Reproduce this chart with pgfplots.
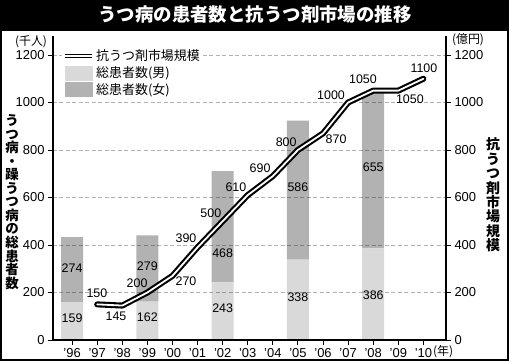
\documentclass[border=0pt]{standalone}
\usepackage{pgfplots}
\pgfplotsset{compat=1.18}
\usepackage{fontspec}
\setmainfont{Liberation Sans}
\newfontfamily\jp{Noto Sans CJK JP}
\definecolor{male}{RGB}{217,217,217}
\definecolor{female}{RGB}{178,178,178}
\pgfplotsset{
  common/.style={
    at={(0bp,0bp)}, anchor=south west,
    scale only axis, width=393bp, height=304bp,
    xmin=-0.76, xmax=14.9, ymin=0, ymax=1280,
    ytick={0,200,...,1200},
    tick align=outside, major tick length=5bp,
    tick style={black, line width=0.9bp},
    axis line style={black, line width=1.1bp},
    tick label style={font=\fontsize{13}{13}\selectfont},
    /pgf/number format/assume math mode=true,
    /pgf/number format/1000 sep={},
  }
}
\begin{document}
\begin{tikzpicture}
\fill[black] (-53bp,-21bp) rectangle (456bp,340bp);
\fill[white] (-51bp,-19bp) rectangle (454bp,309bp);
\node[text=white,font=\jp\bfseries\fontsize{18.5}{20}\selectfont] at (202bp,325bp) {うつ病の患者数と抗うつ剤市場の推移};
\begin{axis}[common,
  axis x line*=bottom, axis y line*=left,
  xtick={0,...,14},
  xticklabels={’96,’97,’98,’99,’00,’01,’02,’03,’04,’05,’06,’07,’08,’09,’10},
  ymajorgrids,
  major grid style={black, opacity=0.3, line width=0.9bp, dash pattern=on 4bp off 2.5bp},
  axis on top,
  ybar stacked, bar width=22bp,
  legend style={at={(0.023,0.964)}, anchor=north west, draw=none, fill=white,
    inner sep=1bp, row sep=1.5bp,
    nodes={inner sep=1.5bp, font=\jp\fontsize{13}{13}\selectfont}},
  legend cell align=left,
]
\addlegendimage{legend image code/.code={\draw[black,line width=1.6bp,double=white,double distance=1.3bp] (0bp,0bp) -- (27bp,0bp);}}
\addlegendentry{抗うつ剤市場規模}
\addlegendimage{legend image code/.code={\fill[male] (0bp,-7bp) rectangle (27bp,7bp);}}
\addlegendentry{総患者数(男)}
\addlegendimage{legend image code/.code={\fill[female] (0bp,-7bp) rectangle (27bp,7bp);}}
\addlegendentry{総患者数(女)}
\addplot[fill=male, draw=none] coordinates {(0,159) (3,162) (6,243) (9,338) (12,386)};
\addplot[fill=female, draw=none] coordinates {(0,274) (3,279) (6,468) (9,586) (12,655)};
\end{axis}
\begin{axis}[common,
  axis x line=none, axis y line*=right,
]
\addplot[black, line width=2.1bp, double=white, double distance=1.8bp, line cap=round, line join=round]
  coordinates {(1,150) (2,145) (3,200) (4,270) (5,390) (6,500) (7,610) (8,690) (9,800) (10,870) (11,1000) (12,1050) (13,1050) (14,1100)};
\begin{scope}[every node/.style={font=\fontsize{12.5}{12.5}\selectfont, inner sep=0pt}]
\node at (axis cs:0.99,198) {150};
\node at (axis cs:1.75,101) {145};
\node at (axis cs:2.59,240) {200};
\node at (axis cs:4.54,248) {270};
\node at (axis cs:4.54,429) {390};
\node at (axis cs:5.53,535) {500};
\node at (axis cs:6.53,644) {610};
\node at (axis cs:7.49,724) {690};
\node at (axis cs:8.53,834) {800};
\node at (axis cs:10.52,846) {870};
\node at (axis cs:10.32,1032) {1000};
\node at (axis cs:11.59,1099) {1050};
\node at (axis cs:13.46,1015) {1050};
\node at (axis cs:14.02,1145) {1100};
\node at (axis cs:0,93) {159};
\node at (axis cs:0,303) {274};
\node at (axis cs:3,97) {162};
\node at (axis cs:3,312) {279};
\node at (axis cs:6,135) {243};
\node at (axis cs:6,366) {468};
\node at (axis cs:9,181) {338};
\node at (axis cs:9,644) {586};
\node at (axis cs:12,190) {386};
\node at (axis cs:12,728) {655};
\end{scope}
\end{axis}
\node[font=\jp\fontsize{12}{12}\selectfont] at (-22bp,298bp) {(千人)};
\node[font=\jp\fontsize{12}{12}\selectfont] at (415bp,300bp) {(億円)};
\node[font=\jp\fontsize{12}{12}\selectfont, anchor=west, inner sep=0pt] at (380bp,-12bp) {(年)};
\node[font=\jp\bfseries\fontsize{13.5}{13.6}\selectfont, align=center, inner sep=0pt] at (-41bp,138bp)
  {う\\つ\\病\\・\\躁\\う\\つ\\病\\の\\総\\患\\者\\数};
\node[font=\jp\bfseries\fontsize{14}{14.5}\selectfont, align=center, inner sep=0pt] at (440bp,145bp)
  {抗\\う\\つ\\剤\\市\\場\\規\\模};
\pgfresetboundingbox
\useasboundingbox (-53bp,-21bp) rectangle (456bp,340bp);
\end{tikzpicture}
\end{document}
